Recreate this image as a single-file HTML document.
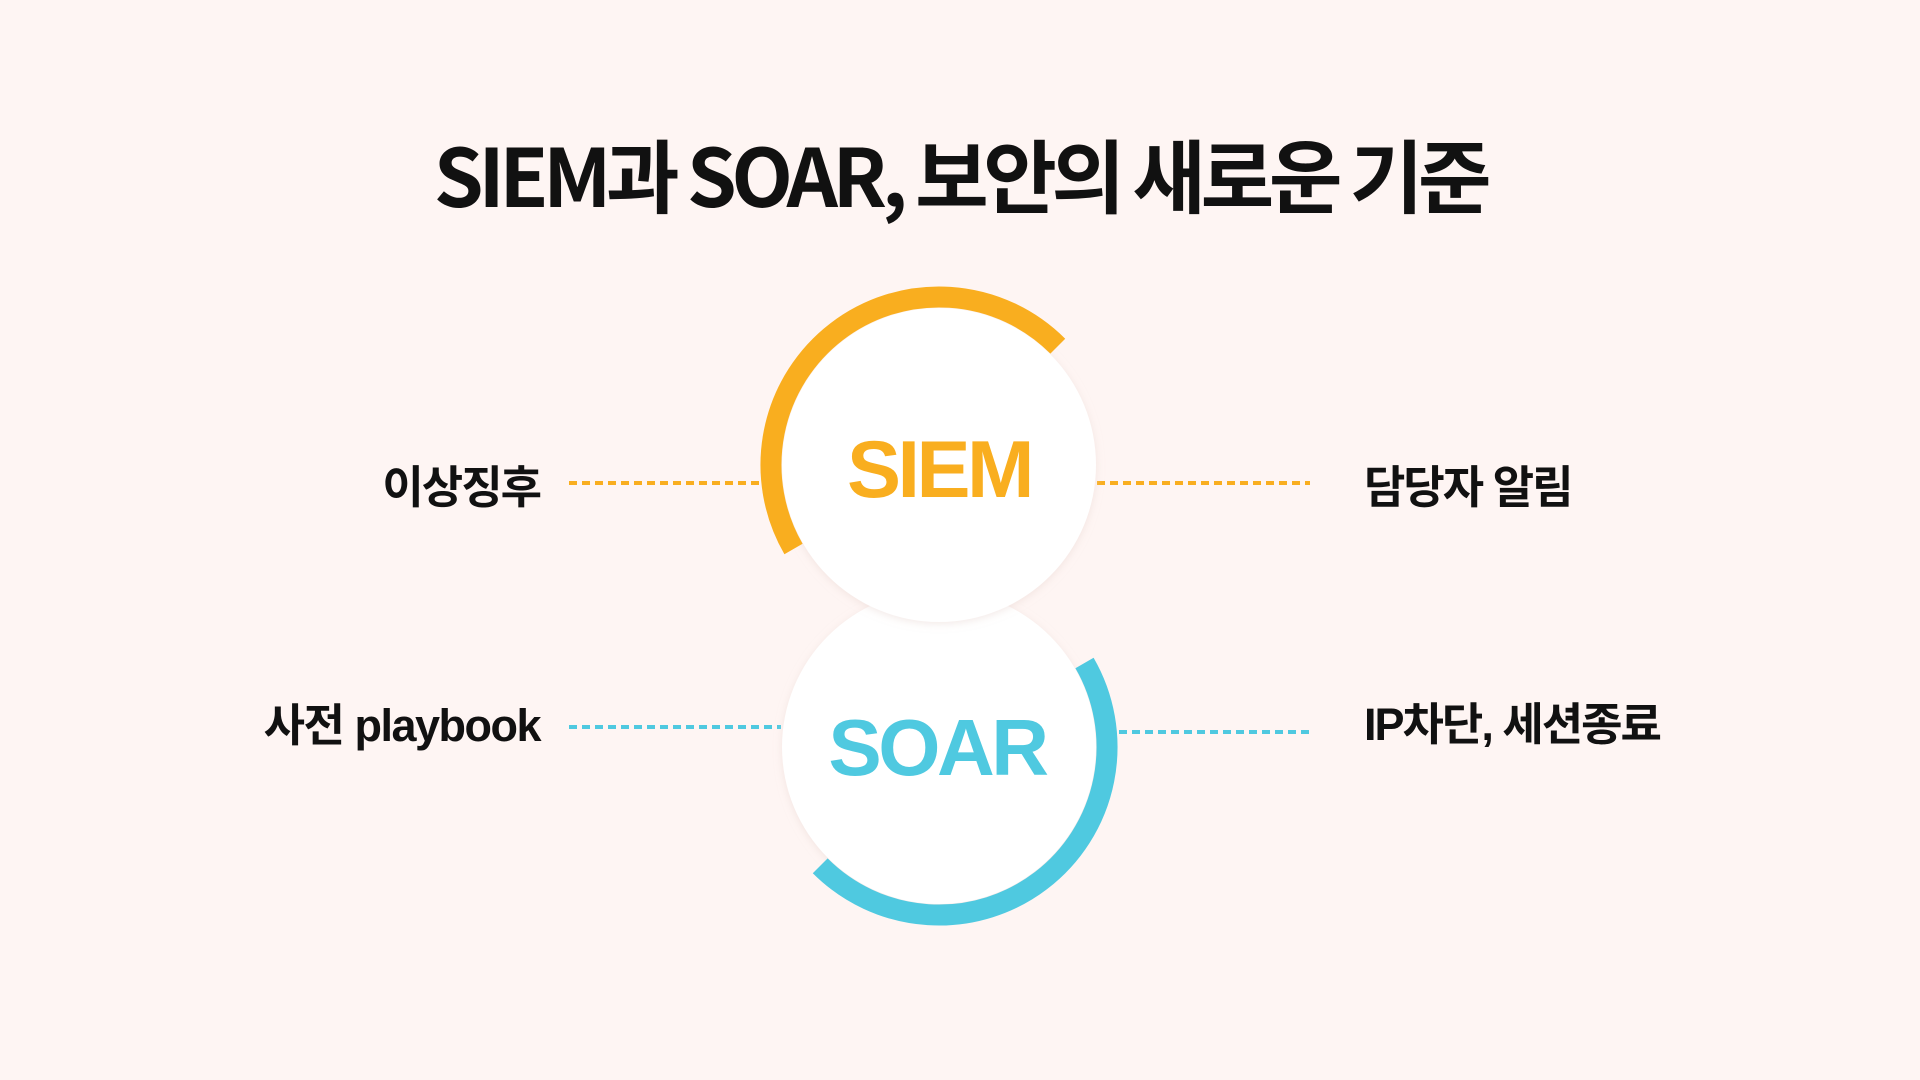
<!DOCTYPE html>
<html><head><meta charset="utf-8"><style>
html,body{margin:0;padding:0;background:#FEF5F3;}
svg{display:block}
text{font-family:"Liberation Sans","Noto Sans CJK KR",sans-serif;font-weight:700;}
</style></head><body>
<svg width="1920" height="1080" viewBox="0 0 1920 1080" xmlns="http://www.w3.org/2000/svg">
<rect width="1920" height="1080" fill="#FEF5F3"/>
<text x="960" y="207" text-anchor="middle" font-size="80" letter-spacing="-5.4" fill="#111" style="font-family:'Noto Sans CJK KR',sans-serif">SIEM과 SOAR, 보안의 새로운 기준</text>
<defs><filter id="sh" x="-20%" y="-20%" width="140%" height="140%"><feDropShadow dx="0" dy="2" stdDeviation="4" flood-color="#e8d5d0" flood-opacity="0.5"/></filter></defs>
<line x1="569" y1="483" x2="759" y2="483" stroke="#F9AE1F" stroke-width="4" stroke-dasharray="8 5"/>
<line x1="1097" y1="483" x2="1310" y2="483" stroke="#F9AE1F" stroke-width="4" stroke-dasharray="8 5"/>
<line x1="569" y1="727" x2="781" y2="727" stroke="#4FC9E0" stroke-width="4" stroke-dasharray="8 5"/>
<line x1="1119" y1="732" x2="1310" y2="732" stroke="#4FC9E0" stroke-width="4" stroke-dasharray="8 5"/>
<circle cx="939" cy="747" r="157" fill="#fff" filter="url(#sh)"/>
<circle cx="939" cy="465" r="157" fill="#fff" filter="url(#sh)"/>
<path d="M 1057.8 346.2 A 168 168 0 0 0 793.5 549" fill="none" stroke="#F9AE1F" stroke-width="21"/>
<path d="M 1084.5 663 A 168 168 0 0 1 820.2 865.8" fill="none" stroke="#4FC9E0" stroke-width="21"/>
<text x="939" y="497" text-anchor="middle" font-size="81" letter-spacing="-3.5" fill="#F9AE1F">SIEM</text>
<text x="937" y="775" text-anchor="middle" font-size="80" letter-spacing="-3.5" fill="#4FC9E0">SOAR</text>
<g font-size="45" fill="#111" letter-spacing="-2" style="font-family:'Noto Sans CJK KR',sans-serif">
<text x="540" y="503" text-anchor="end">이상징후</text>
<text x="1364" y="503">담당자 알림</text>
<text x="540" y="741" text-anchor="end" letter-spacing="-1.5">사전 playbook</text>
<text x="1364" y="740">IP차단, 세션종료</text>
</g>
</svg>
</body></html>
